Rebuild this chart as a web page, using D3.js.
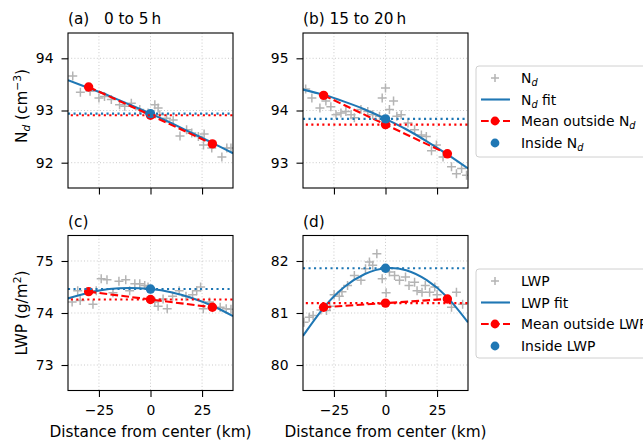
<!DOCTYPE html>
<html>
<head>
<style>
	body { margin: 0; background: #fff; }
	svg text { font-family: "DejaVu Sans", sans-serif; fill: #000; }
</style>
<script src="https://d3js.org/d3.v7.min.js"></script>
</head>
<body>
<div id="chart"></div>
<script>
	// Values
	var xTicks = [-25, 0, 25];
	var xLim = [-40, 40];
	var panelTitles = ["(a)   0 to 5\u2009h", "(b) 15 to 20\u2009h", "(c)", "(d)"];
	var yLims = [[91.515, 94.485], [92.515, 95.485], [72.51, 75.49], [79.51, 82.49]];
	var yTicks = [[92, 93, 94], [93, 94, 95], [73, 74, 75], [80, 81, 82]];

	var scatterAX = [-37.7, -34.0, -29.3, -25.0, -22.3, -19.0, -15.0, -12.5, -9.3, -5.2, -1.2, 2.1, 3.7, 4.5, 7.8, 11.0, 14.3, 17.5, 20.0, 23.2, 26.0, 25.7, 29.7, 34.6, 37.0, 39.0];
	var scatterAY = [93.66, 93.35, 93.37, 93.24, 93.27, 93.21, 93.11, 93.08, 93.14, 93.02, 92.95, 93.11, 93.05, 92.92, 92.85, 92.82, 92.51, 92.63, 92.57, 92.50, 92.55, 92.34, 92.28, 92.11, 92.28, 92.28];
	var scatterBX = [-38.7, -35.7, -31.8, -28.9, -26.5, -24.0, -21.6, -19.2, -16.7, -15.1, -11.9, -8.6, -6.2, -2.9, -1.6, 0.0, 1.9, 3.9, 5.5, 7.6, 10.9, 14.1, 17.4, 19.8, 22.3, 24.7, 27.9, 32.0, 34.4, 36.9, 39.3];
	var scatterBY = [94.41, 94.24, 94.05, 94.18, 94.07, 93.92, 93.95, 93.98, 93.92, 93.86, 94.02, 93.98, 93.92, 93.89, 94.24, 94.43, 94.02, 94.18, 93.89, 93.92, 93.76, 93.63, 93.53, 93.50, 93.23, 93.34, 93.11, 92.92, 92.79, 92.89, 92.76];
	var scatterCX = [-38.0, -35.3, -34.1, -27.9, -26.3, -23.9, -21.1, -18.2, -15.3, -12.0, -10.1, -7.6, -5.2, -2.8, -1.2, 2.1, 3.7, 6.1, 8.1, 10.7, 13.9, 17.2, 20.4, 22.4, 24.3, 25.6, 28.6, 33.8, 36.7, 39.0];
	var scatterCY = [74.21, 74.43, 74.24, 74.17, 74.43, 74.66, 74.64, 74.39, 74.61, 74.64, 74.43, 74.56, 74.56, 74.53, 74.50, 74.21, 74.13, 74.27, 74.08, 74.32, 74.43, 74.32, 74.35, 74.43, 74.50, 74.08, 74.21, 74.11, 74.08, 74.07];
	var scatterDX = [-39.5, -37.0, -35.1, -31.3, -28.6, -27.0, -24.9, -22.4, -21.1, -18.4, -15.1, -11.9, -9.7, -7.8, -6.2, -4.2, -1.6, 0.3, 1.9, 4.4, 6.8, 9.7, 11.4, 14.1, 15.3, 17.7, 19.3, 21.4, 23.9, 25.0, 32.0, 34.4, 37.4];
	var scatterDY = [80.82, 80.92, 80.95, 81.06, 81.05, 81.13, 81.35, 81.32, 81.41, 81.53, 81.72, 81.63, 81.85, 81.98, 81.92, 82.14, 81.66, 81.39, 81.79, 81.72, 81.63, 81.69, 81.53, 81.59, 81.43, 81.40, 81.53, 81.40, 81.50, 81.35, 81.11, 81.40, 81.17];

	var fitX = [-40, -30, -20, -10, 0, 10, 20, 30, 40];
	var fitA = [93.58, 93.43, 93.28, 93.11, 92.94, 92.76, 92.57, 92.38, 92.18];
	var fitB = [94.40, 94.30, 94.17, 94.02, 93.84, 93.64, 93.41, 93.16, 92.89];
	var fitC = [74.28, 74.39, 74.46, 74.48, 74.46, 74.40, 74.29, 74.14, 73.94];
	var fitD = [80.56, 81.10, 81.50, 81.75, 81.86, 81.82, 81.63, 81.30, 80.82];

	var outsideX = [-30, 0, 30];
	var outsideA = [93.45, 92.91, 92.36];
	var outsideB = [94.29, 93.73, 93.17];
	var outsideC = [74.41, 74.26, 74.11];
	var outsideD = [81.11, 81.19, 81.27];
	var insideValues = [92.94, 93.84, 74.46, 81.86];

	var legendNd = ["N_d", "N_d fit", "Mean outside N_d", "Inside N_d"];
	var legendLwp = ["LWP", "LWP fit", "Mean outside LWP", "Inside LWP"];

	var blue = "#1f77b4", red = "#ff0000", gray = "#b4b4b4";
	var width = 643, height = 441;
	var bigFont = 15.3, smallFont = 13.9;

	var svg = d3.select("#chart").append("svg")
		.attr("width", width)
		.attr("height", height);

	var panels = [
		{left: 68, top: 33, sx: scatterAX, sy: scatterAY, fit: fitA, out: outsideA},
		{left: 303, top: 33, sx: scatterBX, sy: scatterBY, fit: fitB, out: outsideB},
		{left: 68, top: 235.5, sx: scatterCX, sy: scatterCY, fit: fitC, out: outsideC},
		{left: 303, top: 235.5, sx: scatterDX, sy: scatterDY, fit: fitD, out: outsideD}
	];
	var pw = 165, ph = 155;

	// writes "N_d" style labels with an italic subscript
	function richText(sel, str, size) {
		var parts = str.split("_d");
		sel.append("tspan").text(parts[0]);
		for (var i = 1; i < parts.length; i++) {
			sel.append("tspan").attr("font-style", "italic")
				.attr("font-size", size * 0.7).attr("dy", 3).text("d");
			sel.append("tspan").attr("dy", -3).text(parts[i]);
		}
	}

	panels.forEach(function(p, k) {
		var x = d3.scaleLinear().domain(xLim).range([0, pw]);
		var y = d3.scaleLinear().domain(yLims[k]).range([ph, 0]);
		var g = svg.append("g").attr("transform", "translate(" + p.left + "," + p.top + ")");

		g.append("clipPath").attr("id", "clip" + k)
			.append("rect").attr("width", pw).attr("height", ph);

		// grid
		g.selectAll(".vgrid").data(xTicks).enter().append("line")
			.attr("x1", function(d) { return x(d); }).attr("x2", function(d) { return x(d); })
			.attr("y1", 0).attr("y2", ph)
			.attr("stroke", "#c4c4c4").attr("stroke-width", 0.9).attr("stroke-dasharray", "1,2.2");
		g.selectAll(".hgrid").data(yTicks[k]).enter().append("line")
			.attr("y1", function(d) { return y(d); }).attr("y2", function(d) { return y(d); })
			.attr("x1", 0).attr("x2", pw)
			.attr("stroke", "#c4c4c4").attr("stroke-width", 0.9).attr("stroke-dasharray", "1,2.2");

		var plot = g.append("g").attr("clip-path", "url(#clip" + k + ")");

		// scatter crosses
		var pts = p.sx.map(function(v, i) { return [v, p.sy[i]]; });
		plot.selectAll(".cross").data(pts).enter().append("path")
			.attr("d", function(d) {
				var cx = x(d[0]), cy = y(d[1]), s = 4.5;
				return "M" + (cx - s) + "," + cy + "H" + (cx + s) + "M" + cx + "," + (cy - s) + "V" + (cy + s);
			})
			.attr("stroke", gray).attr("stroke-width", 1.5).attr("fill", "none");

		// fit curve
		var fitPts = fitX.map(function(v, i) { return [v, p.fit[i]]; });
		plot.append("path").datum(fitPts)
			.attr("d", d3.line().x(function(d) { return x(d[0]); }).y(function(d) { return y(d[1]); }).curve(d3.curveNatural))
			.attr("fill", "none").attr("stroke", blue).attr("stroke-width", 2.1);

		// mean outside, dashed
		var outPts = outsideX.map(function(v, i) { return [v, p.out[i]]; });
		plot.append("path").datum(outPts)
			.attr("d", d3.line().x(function(d) { return x(d[0]); }).y(function(d) { return y(d[1]); }))
			.attr("fill", "none").attr("stroke", red).attr("stroke-width", 2.1)
			.attr("stroke-dasharray", "7.7,3.3");
		plot.selectAll(".outdot").data(outPts).enter().append("circle")
			.attr("cx", function(d) { return x(d[0]); })
			.attr("cy", function(d) { return y(d[1]); })
			.attr("r", 4.7).attr("fill", red);

		// inside point
		plot.append("circle").attr("cx", x(0)).attr("cy", y(insideValues[k]))
			.attr("r", 4.7).attr("fill", blue);

		// horizontal reference lines
		plot.append("line").attr("x1", 0).attr("x2", pw)
			.attr("y1", y(insideValues[k])).attr("y2", y(insideValues[k]))
			.attr("stroke", blue).attr("stroke-width", 2.1).attr("stroke-dasharray", "2.1,3.4");
		plot.append("line").attr("x1", 0).attr("x2", pw)
			.attr("y1", y(p.out[1])).attr("y2", y(p.out[1]))
			.attr("stroke", red).attr("stroke-width", 2.1).attr("stroke-dasharray", "2.1,3.4")
			.attr("stroke-dashoffset", 2.7);

		// axes
		var yAxis = g.append("g")
			.call(d3.axisLeft(y).tickValues(yTicks[k]).tickSize(6.5).tickPadding(8).tickFormat(d3.format("d")));
		var xAxis = g.append("g").attr("transform", "translate(0," + ph + ")")
			.call(d3.axisBottom(x).tickValues(xTicks).tickSize(6.5).tickPadding(8)
				.tickFormat(function(d) { return k < 2 ? "" : (d < 0 ? "\u2212" + Math.abs(d) : d); }));
		[yAxis, xAxis].forEach(function(a) {
			a.attr("font-size", null).attr("font-family", null);
			a.select(".domain").remove();
			a.selectAll("line").attr("stroke", "#000").attr("stroke-width", 1.1);
			a.selectAll("text").attr("font-size", smallFont);
		});

		g.append("rect").attr("width", pw).attr("height", ph)
			.attr("fill", "none").attr("stroke", "#000").attr("stroke-width", 1.1);

		g.append("text").attr("x", 0).attr("y", -9)
			.attr("font-size", bigFont).style("white-space", "pre")
			.text(panelTitles[k]);

		if (k >= 2) {
			g.append("text").attr("x", pw / 2).attr("y", ph + 46)
				.attr("text-anchor", "middle").attr("font-size", bigFont)
				.text("Distance from center (km)");
		}
	});

	// y labels
	var yl1 = svg.append("text").attr("transform", "translate(26.5,106) rotate(-90)")
		.attr("text-anchor", "middle").attr("font-size", bigFont);
	richText(yl1, "N_d (cm", bigFont);
	yl1.append("tspan").attr("font-size", 10.7).attr("dy", -6).text("\u22123");
	yl1.append("tspan").attr("dy", 6).text(")");

	var yl2 = svg.append("text").attr("transform", "translate(26.5,313) rotate(-90)")
		.attr("text-anchor", "middle").attr("font-size", bigFont);
	yl2.append("tspan").text("LWP (g/m");
	yl2.append("tspan").attr("font-size", 10.7).attr("dy", -6).text("2");
	yl2.append("tspan").attr("dy", 6).text(")");

	// legends
	function drawLegend(labels, top, h) {
		var lg = svg.append("g").attr("transform", "translate(476," + top + ")");
		lg.append("rect").attr("width", 200).attr("height", h).attr("rx", 3)
			.attr("fill", "#fff").attr("fill-opacity", 0.8)
			.attr("stroke", "#d0d0d0").attr("stroke-width", 1);
		var rows = [12, 33.5, 55, 77];
		labels.forEach(function(lab, i) {
			var cy = rows[i];
			if (i === 0) {
				lg.append("path").attr("d", "M15," + cy + "H23M19," + (cy - 4) + "V" + (cy + 4))
					.attr("stroke", gray).attr("stroke-width", 1.5);
			} else if (i === 1) {
				lg.append("line").attr("x1", 5).attr("x2", 34).attr("y1", cy).attr("y2", cy)
					.attr("stroke", blue).attr("stroke-width", 2.1);
			} else if (i === 2) {
				lg.append("line").attr("x1", 5).attr("x2", 34).attr("y1", cy).attr("y2", cy)
					.attr("stroke", red).attr("stroke-width", 2.1).attr("stroke-dasharray", "7.7,3.3");
				lg.append("circle").attr("cx", 19).attr("cy", cy).attr("r", 4.4).attr("fill", red);
			} else {
				lg.append("circle").attr("cx", 19).attr("cy", cy).attr("r", 4.4).attr("fill", blue);
			}
			var t = lg.append("text").attr("x", 45).attr("y", cy + 5).attr("font-size", smallFont);
			richText(t, lab, smallFont);
		});
	}
	drawLegend(legendNd, 66, 91);
	drawLegend(legendLwp, 269, 89);
</script>
</body>
</html>
